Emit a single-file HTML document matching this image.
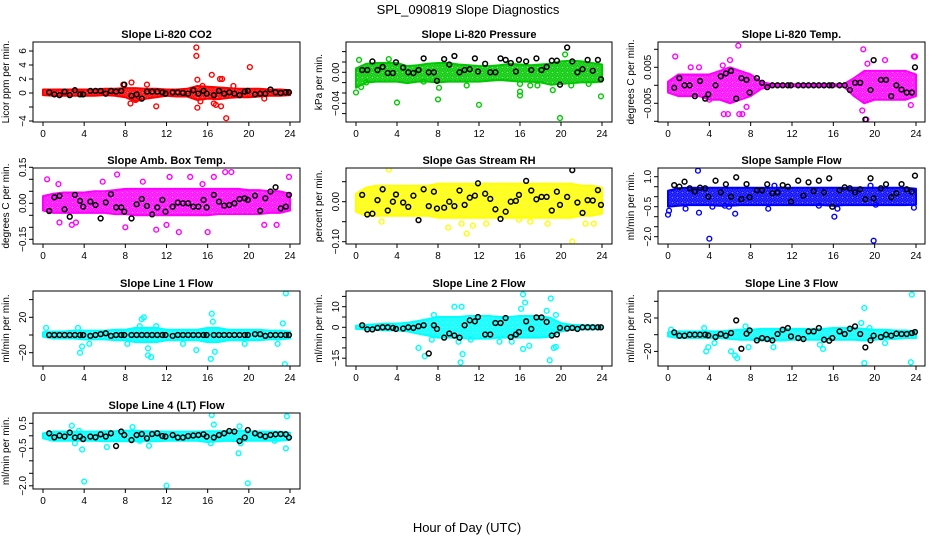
<!DOCTYPE html>
<html><head><meta charset="utf-8"><title>SPL_090819 Slope Diagnostics</title>
<style>
html,body{margin:0;padding:0;background:#fff;}
svg{display:block;font-family:"Liberation Sans",Arial,sans-serif;}
</style></head>
<body>
<svg id="chart" width="936" height="540" viewBox="0 0 936 540" xmlns="http://www.w3.org/2000/svg">
<defs id="defs"></defs>
<text x="468" y="14" text-anchor="middle" font-size="13">SPL_090819  Slope Diagnostics</text>
<text x="467" y="532" text-anchor="middle" font-size="13">Hour of Day (UTC)</text>
</svg>
<script>
// ---- shared data ----
const hourTicks = [0,4,8,12,16,20,24];
const bandHours = [0,1,2,3,4,5,6,7,8,9,10,11,12,13,14,15,16,17,18,19,20,21,22,23,24];
const blkHours = [0.6,1.1,1.6,2.1,2.6,3.1,3.6,3.9,4.6,5.1,5.6,6.1,6.6,7.1,7.6,7.9,8.6,9.1,9.6,10.1,10.6,11.1,11.6,11.9,12.6,13.1,13.6,14.1,14.6,15.1,15.6,15.9,16.6,17.1,17.6,18.1,18.6,19.1,19.6,19.9,20.6,21.1,21.6,22.1,22.6,23.1,23.6,23.9];

// ---- CO2 ----
const co2Lo = [-0.3,-0.4,-0.4,-0.4,-0.4,-0.4,-0.3,-0.4,-0.6,-1.2,-0.8,-0.6,-0.4,-0.5,-0.5,-1.0,-0.8,-0.9,-0.7,-0.6,-0.6,-0.5,-0.4,-0.4,-0.3];
const co2Hi = [0.5,0.5,0.5,0.5,0.5,0.5,0.6,0.6,0.7,0.7,0.6,0.6,0.5,0.5,0.6,1.0,0.9,0.8,0.7,0.6,0.6,0.6,0.5,0.5,0.4];
const co2OutX = [14.9,14.9,15,15,16.4,17.2,17.4,20.1,17.8,17.3,16.6,11,8.6,8.5,10.1,15.5,9,21.5,18.5,7.8,16.8,15.3];
const co2OutY = [6.5,5.3,1.9,-2.1,2.6,2.0,2.0,3.7,-3.6,-1.9,-1.5,-1.9,1.5,-1.5,1.2,1.0,-1.0,-0.8,1.0,1.2,-1.7,-1.2];
const co2Blk = [0.1,-0.2,-0.3,0.2,-0.3,0.4,-0.2,-0.2,0.3,0.3,0.3,-0.1,0.3,0.2,0.3,1.2,-0.4,-0.2,-0.8,0.2,0.2,0.2,0.1,-0.1,0.1,0.1,0.0,-0.1,0.4,-0.1,0.3,-0.1,-0.3,0.3,-0.1,0.1,-0.1,-0.3,0.2,0.3,-0.2,-0.1,-0.1,0.5,0.1,0.0,0.1,0.1];
const co2Ticks = [-4,-2,0,2,4,6];
const co2TickLabels = ["\u22124","","0","2","4","6"];

// ---- Pressure ----
const presLo = [-0.02,-0.013,-0.012,-0.012,-0.012,-0.014,-0.012,-0.012,-0.013,-0.012,-0.012,-0.012,-0.012,-0.011,-0.01,-0.011,-0.012,-0.012,-0.013,-0.016,-0.015,-0.014,-0.013,-0.013,-0.012];
const presHi = [0.005,0.011,0.012,0.012,0.012,0.008,0.009,0.011,0.012,0.012,0.010,0.009,0.008,0.008,0.009,0.011,0.010,0.009,0.010,0.011,0.014,0.015,0.014,0.012,0.010];
const presOutX = [0,0.3,4,8,8.1,12,16,16,16,17,17.7,19.9,20.4,23.9,19.2,21,22.7,10.8,3.2,6.6,0.5,1.0];
const presOutY = [-0.026,0.016,-0.039,-0.035,-0.02,-0.042,-0.025,-0.03,-0.015,-0.017,-0.017,-0.059,0.023,-0.031,-0.023,-0.017,-0.015,-0.017,0.017,-0.012,-0.019,-0.013];
const presBlk = [0.003,0.003,0.014,0.003,0.007,-0.001,-0.001,0.013,0.006,0,-0.001,0.003,0.018,0,0,-0.011,0.017,0.010,0.021,0,0.003,0.004,0.018,0.001,0.011,0,0,0.018,0.016,0.012,0.001,0.016,0.014,0.003,0.018,0.003,0.007,0.015,0.015,-0.016,0.032,0.014,0,0.004,0.016,0.002,0.016,-0.009];
const presTicks = [-0.0533,-0.04,-0.0267,-0.0133,0,0.0133,0.0267];
const presTickLabels = ["","\u22120.04","","","0.00","",""];

// ---- Li-820 Temp ----
const tempLo = [-0.002,-0.003,-0.003,-0.003,-0.004,-0.004,-0.005,-0.004,-0.003,-0.001,-0.0003,-0.0003,-0.0003,-0.0003,-0.0003,-0.0003,-0.0003,-0.0003,-0.003,-0.005,-0.004,-0.004,-0.004,-0.004,-0.003];
const tempHi = [0.001,0.003,0.003,0.003,0.003,0.004,0.005,0.004,0.003,0.001,0.0003,0.0003,0.0003,0.0003,0.0003,0.0003,0.0003,0.0003,0.002,0.004,0.004,0.004,0.004,0.004,0.003];
const tempOutX = [0.7,6.8,5.4,5.8,6.9,7.2,18.9,19.2,18.8,23.9,23.8,23.5,21,6,5.3,4,19.3,2.2,3,7.6];
const tempOutY = [0.008,0.011,-0.008,-0.008,-0.008,-0.008,0.010,-0.0095,-0.007,0.008,0.008,-0.0055,0.007,0.007,0.0055,-0.004,0.006,0.005,0.005,-0.006];
const tempBlk = [-0.0007,0.002,0,0,-0.003,0.0012,-0.0037,-0.0025,0,0.0025,0.0033,0.004,-0.0037,0.002,0.0015,-0.002,0.002,0.0007,-0.0005,0,0,0,0,0,0,0,0,0,0,0,0,0,0,0,-0.0013,0.0007,0.0007,-0.0095,-0.0013,0.007,0.0015,0.0015,-0.003,0,-0.0012,-0.002,-0.002,0.005];
const tempTicks = [-0.01,-0.005,0,0.005,0.01];
const tempTickLabels = ["","\u22120.005","","0.005",""];

// ---- Amb Box Temp ----
const ambLo = [-0.03,-0.04,-0.04,-0.04,-0.04,-0.04,-0.04,-0.045,-0.045,-0.05,-0.05,-0.05,-0.05,-0.05,-0.05,-0.05,-0.05,-0.045,-0.045,-0.045,-0.045,-0.045,-0.04,-0.04,-0.03];
const ambHi = [0.03,0.04,0.045,0.045,0.045,0.05,0.05,0.055,0.06,0.06,0.06,0.06,0.06,0.06,0.06,0.06,0.06,0.06,0.06,0.06,0.055,0.055,0.05,0.05,0.04];
const ambOutX = [0.4,1.5,7.2,10.8,11,13.2,16,17.7,18.3,21.2,21.5,22.7,23.9,1.6,2.8,8,9.7,12.3,14.3,15.5,16.6,5.8,12,3.2];
const ambOutY = [0.1,0.08,0.12,-0.19,-0.11,-0.12,-0.12,0.13,0.13,0.17,-0.09,-0.09,0.11,-0.08,-0.09,-0.1,0.09,0.11,0.11,0.08,0.11,0.09,-0.09,-0.08];
const ambBlk = [-0.032,0.025,0.031,-0.025,-0.056,0.035,0.010,-0.014,0.007,-0.007,-0.063,0.004,0.038,-0.017,-0.017,-0.035,-0.063,-0.004,0.018,-0.011,-0.046,-0.017,0.014,-0.035,-0.014,0.003,0,0,-0.014,-0.014,0.014,-0.017,0.035,0.007,-0.010,-0.007,0,0.018,0.021,0.014,0.032,-0.031,0.021,0.049,0.067,-0.021,-0.014,0.035];
const ambTicks = [-0.15,-0.10,-0.05,0,0.05,0.10,0.15];
const ambTickLabels = ["\u22120.15","","","0.00","","","0.15"];

// ---- Gas Stream RH ----
const rhLo = [-0.025,-0.035,-0.035,-0.035,-0.035,-0.035,-0.035,-0.035,-0.04,-0.04,-0.04,-0.04,-0.04,-0.04,-0.04,-0.04,-0.04,-0.04,-0.04,-0.04,-0.04,-0.04,-0.035,-0.035,-0.03];
const rhHi = [0.02,0.035,0.04,0.04,0.04,0.04,0.04,0.04,0.045,0.045,0.045,0.045,0.045,0.045,0.045,0.045,0.045,0.045,0.045,0.045,0.045,0.045,0.04,0.04,0.035];
const rhOutX = [1.1,13.5,21.1,9,10.8,11.4,12.7,2.5,16.5,19.5,23.6,17,18.7,22.4,23.2,10.3,6.2,3.2,8.5,15.9];
const rhOutY = [0.12,0.12,-0.10,-0.065,-0.08,-0.06,-0.055,-0.05,0.1,0.1,0.1,-0.05,-0.055,-0.055,-0.055,-0.055,0.09,0.08,0.09,-0.045];
const rhBlk = [0.017,-0.032,-0.030,0.004,0.031,-0.022,0,0.018,-0.002,-0.013,0.015,-0.046,0.031,-0.011,0.025,-0.017,-0.015,0,-0.011,0.028,-0.008,0.010,0.015,0.046,0.020,0.007,-0.019,-0.043,-0.025,0,0.002,0.017,0.052,0.028,0.006,0.012,0.012,-0.022,0.025,-0.008,0.012,0.079,-0.002,-0.028,0.004,0.003,0.029,-0.008];
const rhTicks = [-0.10,-0.05,0,0.05];
const rhTickLabels = ["\u22120.10","","0.00",""];

// ---- Sample Flow ----
const sfLo = [-0.5,-0.45,-0.42,-0.42,-0.42,-0.45,-0.45,-0.42,-0.42,-0.42,-0.42,-0.42,-0.42,-0.42,-0.42,-0.42,-0.45,-0.42,-0.42,-0.42,-0.42,-0.42,-0.42,-0.42,-0.4];
const sfHi = [0.3,0.42,0.45,0.45,0.45,0.45,0.45,0.45,0.45,0.45,0.45,0.45,0.45,0.45,0.45,0.45,0.45,0.45,0.45,0.45,0.45,0.45,0.45,0.45,0.4];
const sfOutX = [2.9,4,12,19.9,0,0.1,3,6.5,9.7,10.3,16.1,16.4,1.7,23.8,4.3,5.5,14.6,20.1,19.6,5.9];
const sfOutY = [1.3,-2.1,-2.5,-2.2,-0.9,-0.7,-0.8,-0.85,-0.6,0.55,-1.0,-0.6,-0.6,-0.55,-0.5,-0.45,-0.45,-0.4,0.55,-0.5];
const sfBlk = [0.58,0.5,0.75,0.42,0.25,0.45,0.42,0,0.8,0.22,0.62,0,0.97,-0.12,0.63,-0.03,0.32,0.32,0.62,0.17,0.22,0.58,0.5,-0.25,0.8,0.05,0.72,0.28,0.8,0.22,0.92,-0.5,0.32,0.47,0.42,0.22,0.37,-0.13,0.92,-0.08,0.42,0.62,-0.03,0.17,0.63,0.37,0.25,1.05];
const sfTicks = [-2,-1.5,-1,-0.5,0,0.5,1];
const sfTickLabels = ["\u22122.0","","","\u22120.5","","","1.0"];

// ---- Line 1 Flow ----
const l1Lo = [-2,-4,-4,-4,-5,-5,-5,-6,-6,-8,-8,-8,-6,-6,-6,-6,-8,-8,-6,-6,-6,-6,-5,-5,-4];
const l1Hi = [3,4,4,5,5,5,5,6,6,8,8,8,6,6,6,6,8,8,6,6,6,6,5,5,4];
const l1OutX = [23.6,23.5,16.3,16.7,16.4,3.6,3.8,9.8,10.2,10.5,10.2,4.5,14.9,23.3,16.5,11,9.4,0.3,3.4,8.2,13.6,19.6,22.8,9.6];
const l1OutY = [47,-33,-27,-19,24,-20,-13,20,-23,-25,-15,-10,-17,13,15,10,10,8,8,-10,-10,-10,-10,18];
const l1Blk = [0,0,0,0,0,0,0,0,-1,0,1,2,-1,0,0,0,0,0,0,0,0,0,0,0,-1,0,0,0,0,0,0,0,0,0,0,0,0,0,0,0,1,1,-1,0,0,0,0,0];
const l1Ticks = [-20,0,20,40];
const l1TickLabels = ["\u221220","","20",""];

// ---- Line 2 Flow ----
const l2Lo = [-0.8,-1,-1.2,-1.5,-1.5,-2,-3,-4,-5,-5,-5,-5.5,-5.5,-5.5,-5,-5,-5,-5,-5,-4.5,-2,-1.2,-1,-1,-0.8];
const l2Hi = [0.8,1.2,1.5,1.8,1.8,2.2,3,4,5,5,5,5.5,5.5,5.5,5,5,5.5,5.5,5.5,4.5,2,1.2,1,1,0.8];
const l2OutX = [16.3,19,16.5,16.1,9.6,10.3,18.6,6.1,6.7,10.4,10.2,16.9,16.3,18.9,19.3,19.5,19.5,7.6,14,15.2,7.4,10,11.2];
const l2OutY = [16,14,12,9,10,10,8,-10,-14,-13,-17,-9,-10.5,-16,-10,-9.5,6,6,-7,-7,-6,-7,-6];
const l2Blk = [1,-1,-1,-0.3,0,0,-0.3,-0.8,-0.6,0,-0.3,0.5,1,-12.7,1,-0.8,-5,-3,-4,-5,1,3.4,2.9,5,-3.5,-3.5,2.1,2.1,4.5,-4.7,-3.5,-2.3,2.9,-0.8,4.8,4.8,2.6,-4,-3.5,-0.3,-0.6,-0.3,-0.8,0,0,0,0,0];
const l2Ticks = [-15,-10,-5,0,5,10,15];
const l2TickLabels = ["\u221215","","","0","","10",""];

// ---- Line 3 Flow ----
const l3Lo = [-2,-4,-4,-4,-4,-4,-5,-6,-6,-7,-7,-7,-6,-6,-6,-6,-6,-6,-6,-7,-6,-5,-5,-4,-4];
const l3Hi = [3,4,4,4,4,4,5,6,6,7,7,7,7,7,7,7,8,8,8,7,6,6,5,5,4];
const l3OutX = [23.6,19,23.5,19,3.7,3.9,6.1,6.5,6.7,7.5,7.8,10.2,15,14.7,18.7,4.5,0.3,3.5,21,19.5];
const l3OutY = [48,32,-33,-34,-20,-15,-20,-25,-28,10,-15,-15,-17,-12,14,-10,6,8,-10,8];
const l3Blk = [2.8,-1.2,-1.2,0,0,0,0,-0.8,-2.8,0.8,-1.2,2,17.2,-16.8,1.2,5.2,-6.8,-4,-5.2,-6.8,0.8,6,8,-2,-4,-5.2,4,4,8,-6,-7.2,-4,4,0.8,7.2,10,0.8,-15.2,-6.8,-1.2,-2.8,0,-1.2,1.2,0.8,0.8,2,3.2];
const l3Ticks = [-20,0,20,40];
const l3TickLabels = ["\u221220","","20",""];

// ---- Line 4 (LT) Flow ----
const l4Lo = [-0.1,-0.2,-0.2,-0.2,-0.2,-0.2,-0.22,-0.22,-0.22,-0.22,-0.22,-0.22,-0.2,-0.2,-0.2,-0.2,-0.25,-0.22,-0.2,-0.22,-0.2,-0.2,-0.2,-0.2,-0.15];
const l4Hi = [0.1,0.17,0.17,0.17,0.17,0.17,0.18,0.18,0.2,0.2,0.18,0.18,0.17,0.17,0.17,0.17,0.18,0.18,0.18,0.2,0.18,0.17,0.17,0.17,0.12];
const l4OutX = [2.8,3.1,3.8,4,12,19.9,16.4,16.6,23.7,19.1,19,23.6,6.2,8.7,10.3,16.3,19.2,22.5,9.4,3.5,0.8];
const l4OutY = [0.4,-0.3,-0.55,-1.83,-2.0,-1.9,0.83,0.45,0.78,0.38,-0.7,-0.5,-0.45,0.35,-0.4,-0.3,-0.3,-0.2,-0.2,0.2,-0.1];
const l4Blk = [0.1,-0.06,0.01,-0.03,0.13,-0.07,-0.03,-0.13,-0.03,-0.06,0.06,-0.03,0.1,-0.41,0.17,0.03,-0.17,0.03,0.07,-0.1,0.07,0.1,-0.01,-0.03,0.03,-0.07,-0.07,-0.01,0.01,0.03,0.06,-0.03,-0.07,0.03,0.1,0.19,0.17,-0.21,-0.07,0.23,0.1,0.03,-0.03,0.03,0.06,0.07,0.06,-0.07];
const l4Ticks = [-2,-1.5,-1,-0.5,0,0.5];
const l4TickLabels = ["\u22122.0","","","\u22120.5","","0.5"];

// ---- layout ----
const cols = [{b0:33,b1:300,h0:43,h24:290},{b0:346,b1:612,h0:356,h24:602},{b0:658,b1:925,h0:668,h24:916}];
const rows = [{t:42,b:122},{t:168,b:244},{t:291,b:366},{t:413,b:489}];

const panels = [
 {key:'co2',title:'Slope Li-820 CO2',ylab:'Licor ppm per min.',c:0,r:0,color:'#ff0000',a:[6,51],b:[-4,121],lo:co2Lo,hi:co2Hi,ox:co2OutX,oy:co2OutY,bk:co2Blk,ticks:co2Ticks,tl:co2TickLabels},
 {key:'pressure',title:'Slope Li-820 Pressure',ylab:'kPa per min.',c:1,r:0,color:'#00c800',a:[0,72.3],b:[-0.04,103.3],lo:presLo,hi:presHi,ox:presOutX,oy:presOutY,bk:presBlk,ticks:presTicks,tl:presTickLabels},
 {key:'li820-temp',title:'Slope Li-820 Temp.',ylab:'degrees C per min.',c:2,r:0,color:'#ff00ff',a:[0,85.3],b:[0.005,67.3],lo:tempLo,hi:tempHi,ox:tempOutX,oy:tempOutY,bk:tempBlk,ticks:tempTicks,tl:tempTickLabels},
 {key:'amb-box-temp',title:'Slope Amb. Box Temp.',ylab:'degrees C per min.',c:0,r:1,color:'#ff00ff',a:[0,203.3],b:[0.15,167.3],lo:ambLo,hi:ambHi,ox:ambOutX,oy:ambOutY,bk:ambBlk,ticks:ambTicks,tl:ambTickLabels},
 {key:'gas-stream-rh',title:'Slope Gas Stream RH',ylab:'percent per min.',c:1,r:1,color:'#ffff00',a:[0,201.7],b:[-0.10,241.7],lo:rhLo,hi:rhHi,ox:rhOutX,oy:rhOutY,bk:rhBlk,ticks:rhTicks,tl:rhTickLabels},
 {key:'sample-flow',title:'Slope Sample Flow',ylab:'ml/min per min.',c:2,r:1,color:'#0000ff',a:[1,176.7],b:[-0.5,206.7],lo:sfLo,hi:sfHi,ox:sfOutX,oy:sfOutY,bk:sfBlk,ticks:sfTicks,tl:sfTickLabels},
 {key:'line1-flow',title:'Slope Line 1 Flow',ylab:'ml/min per min.',c:0,r:2,color:'#00ffff',a:[0,335],b:[20,317.3],lo:l1Lo,hi:l1Hi,ox:l1OutX,oy:l1OutY,bk:l1Blk,ticks:l1Ticks,tl:l1TickLabels},
 {key:'line2-flow',title:'Slope Line 2 Flow',ylab:'ml/min per min.',c:1,r:2,color:'#00ffff',a:[0,327.3],b:[10,306.7],lo:l2Lo,hi:l2Hi,ox:l2OutX,oy:l2OutY,bk:l2Blk,ticks:l2Ticks,tl:l2TickLabels},
 {key:'line3-flow',title:'Slope Line 3 Flow',ylab:'ml/min per min.',c:2,r:2,color:'#00ffff',a:[0,334.7],b:[20,318],lo:l3Lo,hi:l3Hi,ox:l3OutX,oy:l3OutY,bk:l3Blk,ticks:l3Ticks,tl:l3TickLabels},
 {key:'line4-flow',title:'Slope Line 4 (LT) Flow',ylab:'ml/min per min.',c:0,r:3,color:'#00ffff',a:[0.5,423.3],b:[-0.5,448.3],lo:l4Lo,hi:l4Hi,ox:l4OutX,oy:l4OutY,bk:l4Blk,ticks:l4Ticks,tl:l4TickLabels}
];

const NS = 'http://www.w3.org/2000/svg';
const svg = document.getElementById('chart');
const defs = document.getElementById('defs');
function mk(tag, attrs, parent){
  const e = document.createElementNS(NS, tag);
  for (const k in attrs) e.setAttribute(k, attrs[k]);
  parent.appendChild(e);
  return e;
}

panels.forEach(p => {
  const col = cols[p.c], row = rows[p.r];
  const xS = h => col.h0 + (h/24)*(col.h24-col.h0);
  const yS = v => p.a[1] + (v - p.a[0])*(p.b[1]-p.a[1])/(p.b[0]-p.a[0]);

  // speckle pattern for dense band
  const patId = 'pat-' + p.key;
  const pat = mk('pattern', {id: patId, width: 5, height: 5, patternUnits: 'userSpaceOnUse'}, defs);
  mk('rect', {x:0, y:0, width:5, height:5, fill: p.color, 'fill-opacity': 0.55}, pat);
  mk('circle', {cx: 2.5, cy: 2.5, r: 1.7, fill: 'none', stroke: p.color, 'stroke-width': 1.3}, pat);
  mk('circle', {cx: 0, cy: 0, r: 1.0, fill: p.color}, pat);
  mk('circle', {cx: 5, cy: 5, r: 1.0, fill: p.color}, pat);
  mk('circle', {cx: 0, cy: 5, r: 1.0, fill: p.color}, pat);
  mk('circle', {cx: 5, cy: 0, r: 1.0, fill: p.color}, pat);

  const g = mk('g', {}, svg);
  
  
  const clipId = 'clip-' + p.key;
  const cp = mk('clipPath', {id: clipId}, g);
  mk('rect', {x: col.b0, y: row.t, width: col.b1-col.b0, height: row.b-row.t}, cp);

  const t = mk('text', {x: (col.b0+col.b1)/2, y: row.t-4, 'text-anchor':'middle', 'font-size':11, 'font-weight':'bold'}, g);
  t.textContent = p.title;
  
  

  const my = (row.t+row.b)/2, lx = col.b0-24;
  const yl = mk('text', {x: lx, y: my, 'text-anchor':'middle', 'font-size':10, transform:`rotate(-90 ${lx} ${my})`}, g);
  yl.textContent = p.ylab;
  
  

  const plot = mk('g', {'clip-path': `url(#${clipId})`}, g);
  
  

  let pts = bandHours.map((h,i) => `${xS(h).toFixed(1)},${yS(p.hi[i]).toFixed(1)}`);
  for (let i = bandHours.length-1; i >= 0; i--) pts.push(`${xS(bandHours[i]).toFixed(1)},${yS(p.lo[i]).toFixed(1)}`);
  const band = mk('polygon', {points: pts.join(' '), fill: `url(#${patId})`, stroke: p.color, 'stroke-width': 2, 'stroke-linejoin':'round'}, plot);
  
  

  p.ox.forEach((h,i) => {
    const c = mk('circle', {cx: xS(h), cy: yS(p.oy[i]), r: 2.4, fill:'none', stroke: p.color, 'stroke-width': 1.4}, plot);
    
    
  });
  blkHours.forEach((h,i) => {
    const c = mk('circle', {cx: xS(h), cy: yS(p.bk[i]), r: 2.4, fill:'none', stroke:'#000', 'stroke-width': 1.5}, plot);
    
    
  });

  const box = mk('rect', {x: col.b0, y: row.t, width: col.b1-col.b0, height: row.b-row.t, fill:'none', stroke:'#000', 'stroke-width':1}, g);
  
  

  hourTicks.forEach(h => {
    const x = xS(h);
    mk('line', {x1:x, x2:x, y1:row.b, y2:row.b+4, stroke:'#000'}, g);
    const tl = mk('text', {x:x, y: row.b+15, 'text-anchor':'middle', 'font-size':10}, g);
    tl.textContent = String(h);
    
    
  });
  p.ticks.forEach((v,i) => {
    const y = yS(v);
    mk('line', {x1:col.b0-4, x2:col.b0, y1:y, y2:y, stroke:'#000'}, g);
    if (p.tl[i]) {
      const tx = col.b0-7;
      const tl = mk('text', {x:tx, y:y, 'text-anchor':'middle', 'font-size':10, transform:`rotate(-90 ${tx} ${y})`}, g);
      tl.textContent = p.tl[i];
      
      
    }
  });
});
</script>
</body></html>
